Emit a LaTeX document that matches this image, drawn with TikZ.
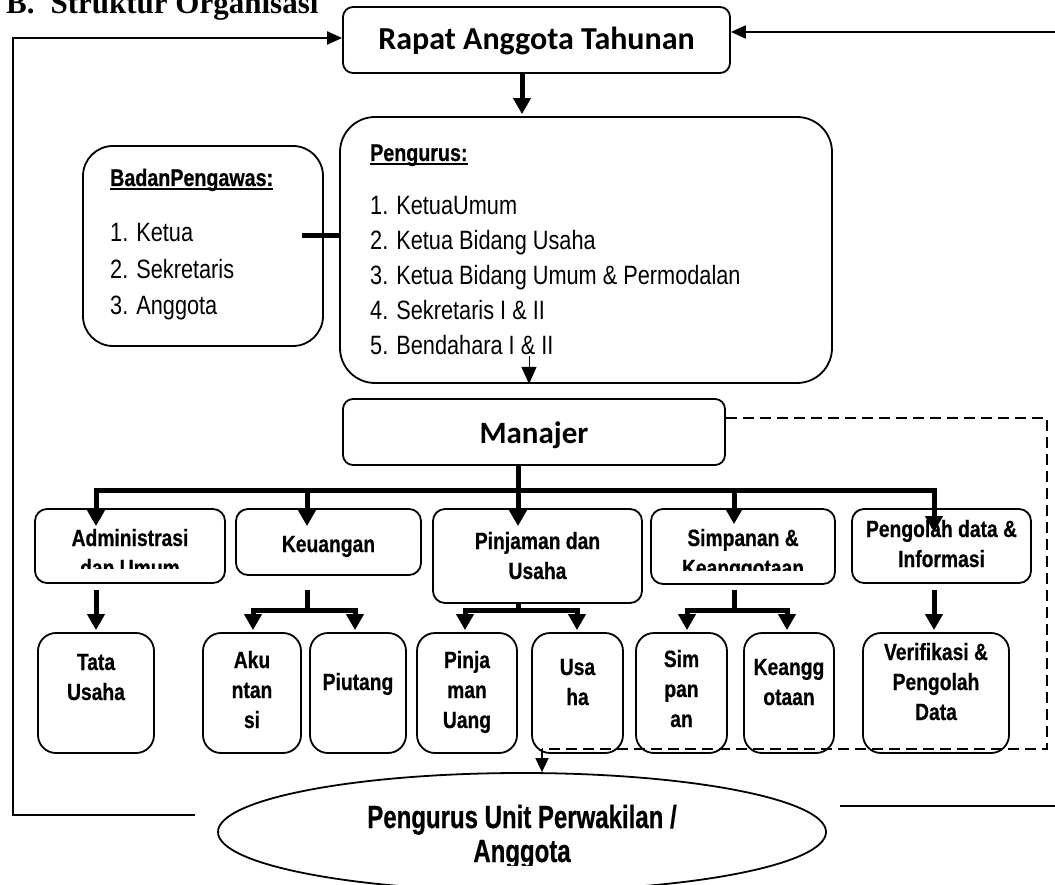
\documentclass[tikz,border=0pt]{standalone}
\usepackage{fontspec}
\usetikzlibrary{arrows.meta,shapes.geometric,calc}

\newfontfamily\titlefont{Liberation Serif}
\newfontfamily\calfont{Carlito}
\newfontfamily\narrowfont[FakeStretch=0.82, BoldFeatures={FakeBold=0.6}]{Liberation Sans}
\newfontfamily\ovalfont[FakeStretch=0.75, BoldFeatures={FakeBold=0.6}]{Liberation Sans}

% centred and left aligned stacks of lines, baseline on the first line
\newcommand\ctrlines[1]{\begin{tabular}[t]{@{}c@{}}#1\end{tabular}}
\newcommand\lftlines[1]{\begin{tabular}[t]{@{}l@{}}#1\end{tabular}}
% heavier underline for the list headings
\newcommand\ulbox[1]{\setbox0\hbox{#1}\rlap{\rule[-4pt]{\wd0}{1.6pt}}\box0}

\tikzset{
  box/.style={draw, line width=1.8pt, fill=white, inner sep=0pt, rounded corners=#1},
  box/.default=12pt,
  txt/.style={inner sep=0pt, anchor=base},
  unit/.style={txt, font=\narrowfont\bfseries\fontsize{23.5}{30}\selectfont},
  head/.style={inner sep=0pt, anchor=base west, font=\narrowfont\bfseries\fontsize{24}{28}\selectfont},
  bigline/.style={line width=5pt, line cap=rect},
  bigarrow/.style={line width=5pt, -{Triangle[width=17pt,length=16pt]}},
  fbline/.style={line width=2pt},
  fbarrow/.style={line width=2pt, -{Triangle[width=13pt,length=15pt]}},
  thinarrow/.style={line width=1.6pt, -{Triangle[width=13pt,length=14pt]}},
  tiparrow/.style={line width=1pt, -{Triangle[width=15pt,length=17pt]}},
  dashline/.style={line width=2.2pt, dash pattern=on 11pt off 6pt},
}

\begin{document}
\begin{tikzpicture}[x=1pt, y=-1pt]
\useasboundingbox (0,0) rectangle (1055,885);

% heading, partly cut by the top edge
\node[inner sep=0pt, anchor=base west, font=\titlefont\bfseries\fontsize{31}{36}\selectfont]
  (title) at (6,14) {B.\hspace{16pt}Struktur Organisasi};

% ---------- boxes ----------
\node[box=10pt, minimum width=387pt, minimum height=66pt] (rat) at (536.5,40) {};
\node[box=30pt, minimum width=240pt, minimum height=200pt] (bp) at (203,246) {};
\node[box=35pt, minimum width=492pt, minimum height=266pt] (pg) at (586,250) {};
\node[box=10pt, minimum width=382pt, minimum height=66pt] (man) at (534,432) {};

\node[box, minimum width=190pt, minimum height=74pt] (adm)  at (130,546) {};
\node[box, minimum width=185pt, minimum height=66pt] (keu)  at (328.5,542) {};
\node[box, minimum width=209pt, minimum height=94pt] (pin)  at (537.5,556) {};
\node[box, minimum width=184pt, minimum height=75pt] (sim)  at (743,546.5) {};
\node[box, minimum width=179pt, minimum height=74pt] (peng) at (941.5,546) {};

\node[box=18pt, minimum width=116pt, minimum height=120pt] (tata) at (96,693) {};
\node[box=18pt, minimum width=98pt,  minimum height=120pt] (aku)  at (252,693) {};
\node[box=18pt, minimum width=96pt,  minimum height=120pt] (piu)  at (358,693) {};
\node[box=18pt, minimum width=100pt, minimum height=120pt] (pu)   at (467,693) {};
\node[box=18pt, minimum width=91pt,  minimum height=120pt] (usa)  at (577.5,693) {};
\node[box=18pt, minimum width=91pt,  minimum height=120pt] (simp) at (681.5,693) {};
\node[box=18pt, minimum width=90pt,  minimum height=120pt] (kea)  at (789,693) {};
\node[box=18pt, minimum width=146pt, minimum height=120pt] (ver)  at (936,693) {};

\node[ellipse, draw, line width=1.8pt, fill=white, inner sep=0pt,
      minimum width=608pt, minimum height=118pt] (ell) at (522,832) {};

% ---------- texts ----------
\node[txt, font=\calfont\bfseries\fontsize{32}{36}\selectfont] (ratT) at (536.5,50) {Rapat Anggota Tahunan};
\node[txt, font=\calfont\bfseries\fontsize{31}{36}\selectfont] (manT) at (534,443) {Manajer};

\node[head] (bpH) at (110,186) {\ulbox{BadanPengawas:}};
\node[inner sep=0pt, anchor=base west, font=\narrowfont\fontsize{26.5}{36.5}\selectfont]
  (bpL) at (110,242) {\lftlines{1. Ketua\\2. Sekretaris\\3. Anggota}};

\node[head] (pgH) at (370,161) {\ulbox{Pengurus:}};
\node[inner sep=0pt, anchor=base west, font=\narrowfont\fontsize{26.5}{35}\selectfont]
  (pgL) at (370,215) {\lftlines{1. KetuaUmum\\2. Ketua Bidang Usaha\\3. Ketua Bidang Umum \& Permodalan\\4. Sekretaris I \& II\\5. Bendahara I \& II}};

\begin{scope}
  \clip (36,505) rectangle (224,568);
  \node[unit] (admT) at (130,546) {\ctrlines{Administrasi\\dan Umum}};
\end{scope}
\node[unit] (keuT) at (328.5,552) {Keuangan};
\node[unit] (pinT) at (537.5,549) {\ctrlines{Pinjaman dan\\Usaha}};
\begin{scope}
  \clip (652,505) rectangle (834,570);
  \node[unit] (simT) at (743,546) {\ctrlines{Simpanan \&\\Keanggotaan}};
\end{scope}
\node[unit] (pengT) at (941.5,537) {\ctrlines{Pengolah data \&\\Informasi}};

\node[unit] (tataT) at (96,670)    {\ctrlines{Tata\\Usaha}};
\node[unit] (akuT)  at (252,668)   {\ctrlines{Aku\\ntan\\si}};
\node[unit] (piuT)  at (358,690)   {Piutang};
\node[unit] (puT)   at (467,668)   {\ctrlines{Pinja\\man\\Uang}};
\node[unit] (usaT)  at (577.5,675) {\ctrlines{Usa\\ha}};
\node[unit] (simpT) at (681.5,667) {\ctrlines{Sim\\pan\\an}};
\node[unit] (keaT)  at (789,675)   {\ctrlines{Keangg\\otaan}};
\node[unit] (verT)  at (936,660)   {\ctrlines{Verifikasi \&\\Pengolah\\Data}};

\begin{scope}
  \clip (220,775) rectangle (830,865);
  \node[txt, font=\ovalfont\bfseries\fontsize{32}{34}\selectfont]
    (ellT) at (522,828) {\ctrlines{Pengurus Unit Perwakilan /\\Anggota}};
\end{scope}

% ---------- connectors ----------
% Rapat Anggota Tahunan down to Pengurus
\coordinate (raS) at ($(rat.south)+(-14.5,0)$);
\draw[bigarrow] (raS) -- ($(raS |- pg.north)+(0,-2)$);

% Badan Pengawas joined to Pengurus
\draw[bigline, line cap=butt] ($(bp.east)+(-22,-10)$) -- ($(bp.east -| pg.west)+(0,-10)$);

% Pengurus down towards Manajer
\coordinate (pgA) at (529,356);
\draw[tiparrow] (pgA) -- (pgA |- pg.south);

% Manajer to the five units
\coordinate (tA) at (96,490);
\coordinate (tK) at (307,490);
\coordinate (tP) at (518,490);
\coordinate (tS) at (734,490);
\coordinate (tD) at (934,490);
\draw[bigline] (tA) -- (tD);
\draw[bigline, line cap=butt] (tP |- man.south) -- (tP);
\draw[bigarrow] (tA) -- ($(tA |- adm.north)+(0,18)$);
\draw[bigarrow] (tK) -- ($(tK |- keu.north)+(0,18)$);
\draw[bigarrow] (tP) -- ($(tP |- pin.north)+(0,18)$);
\draw[bigarrow] (tS) -- ($(tS |- sim.north)+(0,16)$);
\draw[bigarrow] (tD) -- ($(tD |- peng.north)+(0,24)$);

% units to their sections
\coordinate (aS) at (96,590);
\draw[bigarrow] (aS) -- ($(aS |- tata.north)+(0,-2)$);

\coordinate (kS) at (307,590);
\coordinate (kB) at (307,610);
\coordinate (kL) at (253,610);
\coordinate (kR) at (355,610);
\draw[bigline, line cap=butt] (kS) -- (kB);
\draw[bigline] (kL) -- (kR);
\draw[bigarrow] (kL) -- ($(kL |- aku.north)+(0,-2)$);
\draw[bigarrow] (kR) -- ($(kR |- piu.north)+(0,-2)$);

\coordinate (pB) at (518,610);
\coordinate (pL) at (465,610);
\coordinate (pR) at (577,610);
\draw[bigline, line cap=butt] (pin.south -| pB) -- (pB);
\draw[bigline] (pL) -- (pR);
\draw[bigarrow] (pL) -- ($(pL |- pu.north)+(0,-2)$);
\draw[bigarrow] (pR) -- ($(pR |- usa.north)+(0,-2)$);

\coordinate (sS) at (734,590);
\coordinate (sB) at (734,610);
\coordinate (sL) at (687,610);
\coordinate (sR) at (787,610);
\draw[bigline, line cap=butt] (sS) -- (sB);
\draw[bigline] (sL) -- (sR);
\draw[bigarrow] (sL) -- ($(sL |- simp.north)+(0,-2)$);
\draw[bigarrow] (sR) -- ($(sR |- kea.north)+(0,-2)$);

\coordinate (dS) at (934,590);
\draw[bigarrow] (dS) -- ($(dS |- ver.north)+(0,-2)$);

% dashed line from Manajer round to the members
\coordinate (dTR) at (1047,418);
\coordinate (dBR) at (1047,749);
\coordinate (dBL) at (542,749);
\draw[dashline] ($(man.east)+(0,-14)$) -- (dTR) -- (dBR) -- (dBL);
\draw[thinarrow] (dBL) -- (dBL |- ell.north);

% feedback lines back to the annual meeting
\coordinate (fL0) at (195,815);
\coordinate (fL1) at (12.5,815);
\draw[fbarrow] (fL0) -- (fL1) |- ($(rat.west)+(0,-2)$);
\coordinate (fR0) at (1060,32);
\draw[fbarrow] (fR0) -- (fR0 -| rat.east);
\coordinate (fR2) at (840,806);
\coordinate (fR3) at (1060,806);
\draw[fbline] (fR2) -- (fR3);
\end{tikzpicture}
\end{document}
